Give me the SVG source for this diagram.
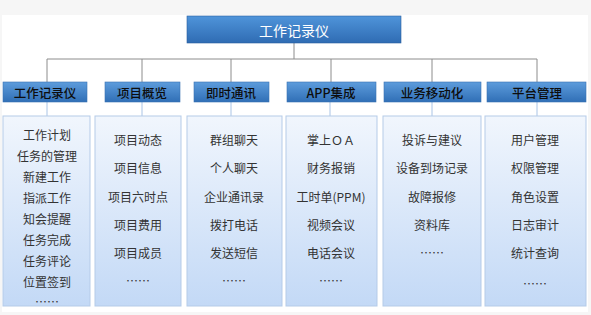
<svg xmlns="http://www.w3.org/2000/svg" width="591" height="315" viewBox="0 0 591 315">
<defs>
<linearGradient id="gTop" x1="0" y1="0" x2="0" y2="1">
<stop offset="0" stop-color="#4f94da"/>
<stop offset="1" stop-color="#2f6cb3"/>
</linearGradient>
<linearGradient id="gHead" x1="0" y1="0" x2="0" y2="1">
<stop offset="0" stop-color="#5d9cdc"/>
<stop offset="1" stop-color="#306fb6"/>
</linearGradient>
<linearGradient id="gBox" x1="0" y1="0" x2="0" y2="1">
<stop offset="0" stop-color="#f1f6fd"/>
<stop offset="1" stop-color="#c3d9f6"/>
</linearGradient>
</defs>
<style>
text{font-family:"Noto Sans CJK SC","Liberation Sans",sans-serif;text-anchor:middle;dominant-baseline:central}
.top{fill:url(#gTop);stroke:#2a5f9e;stroke-width:0.6}
.head{fill:url(#gHead);stroke:#3a72b3;stroke-width:0.6}
.box{fill:url(#gBox);stroke:#b5cbe8;stroke-width:1}
.tt{fill:#ffffff;font-size:14px}
.ht{fill:#0d0d0d;font-size:12.5px;font-weight:500}
.it{fill:#333333;font-size:12px}
.conn{stroke:#8c8c8c;stroke-width:1;fill:none}
.sub{stroke:#a9c4e6;stroke-width:1;fill:none}
</style>
<rect x="0" y="0" width="591" height="315" fill="#f6f6f6"/>
<rect x="2" y="15" width="586" height="297" fill="#ffffff"/>
<g id="connectors">
<path class="conn" d="M294 43V59M47 59H537M47 59V82M142 59V82M231 59V82M331 59V82M432 59V82M537 59V82"/>
<path class="sub" d="M47 102V116M142 102V116M231 102V116M330 102V116M432 102V116M537 102V116"/>
</g>
<g id="root">
<rect class="top" x="187" y="16" width="214" height="27"/>
<text class="tt" x="294" y="29.5">工作记录仪</text>
</g>
<g id="cat1">
<rect class="head" x="3" y="82" width="84" height="20"/>
<text class="ht" x="45" y="92">工作记录仪</text>
<rect class="box" x="3" y="116" width="87" height="190"/>
<text class="it" x="47" y="134">工作计划</text>
<text class="it" x="47" y="155">任务的管理</text>
<text class="it" x="47" y="176">新建工作</text>
<text class="it" x="47" y="197">指派工作</text>
<text class="it" x="47" y="218">知会提醒</text>
<text class="it" x="47" y="239">任务完成</text>
<text class="it" x="47" y="260">任务评论</text>
<text class="it" x="47" y="281">位置签到</text>
<text class="it" x="47" y="301">……</text>
</g>
<g id="cat2">
<rect class="head" x="105" y="82" width="75" height="20"/>
<text class="ht" x="142" y="92">项目概览</text>
<rect class="box" x="95" y="116" width="86" height="190"/>
<text class="it" x="138" y="139">项目动态</text>
<text class="it" x="138" y="167">项目信息</text>
<text class="it" x="138" y="196">项目六时点</text>
<text class="it" x="138" y="224">项目费用</text>
<text class="it" x="138" y="252">项目成员</text>
<text class="it" x="138" y="280">……</text>
</g>
<g id="cat3">
<rect class="head" x="194" y="82" width="75" height="20"/>
<text class="ht" x="231" y="92">即时通讯</text>
<rect class="box" x="187" y="116" width="95" height="190"/>
<text class="it" x="234" y="139">群组聊天</text>
<text class="it" x="234" y="167">个人聊天</text>
<text class="it" x="234" y="196">企业通讯录</text>
<text class="it" x="234" y="224">拨打电话</text>
<text class="it" x="234" y="252">发送短信</text>
<text class="it" x="234" y="280">……</text>
</g>
<g id="cat4">
<rect class="head" x="287" y="82" width="89" height="20"/>
<text class="ht" x="331" y="92">APP集成</text>
<rect class="box" x="286" y="116" width="91" height="190"/>
<text class="it" x="331" y="139">掌上ＯＡ</text>
<text class="it" x="331" y="167">财务报销</text>
<text class="it" x="331" y="196">工时单(PPM)</text>
<text class="it" x="331" y="224">视频会议</text>
<text class="it" x="331" y="252">电话会议</text>
<text class="it" x="331" y="280">……</text>
</g>
<g id="cat5">
<rect class="head" x="384" y="82" width="97" height="20"/>
<text class="ht" x="432" y="92">业务移动化</text>
<rect class="box" x="383" y="116" width="98" height="190"/>
<text class="it" x="432" y="139">投诉与建议</text>
<text class="it" x="432" y="167">设备到场记录</text>
<text class="it" x="432" y="196">故障报修</text>
<text class="it" x="432" y="224">资料库</text>
<text class="it" x="432" y="252">……</text>
</g>
<g id="cat6">
<rect class="head" x="487" y="82" width="99" height="20"/>
<text class="ht" x="537" y="92">平台管理</text>
<rect class="box" x="485" y="116" width="101" height="190"/>
<text class="it" x="535" y="139">用户管理</text>
<text class="it" x="535" y="167">权限管理</text>
<text class="it" x="535" y="196">角色设置</text>
<text class="it" x="535" y="224">日志审计</text>
<text class="it" x="535" y="252">统计查询</text>
<text class="it" x="535" y="283">……</text>
</g>
</svg>
